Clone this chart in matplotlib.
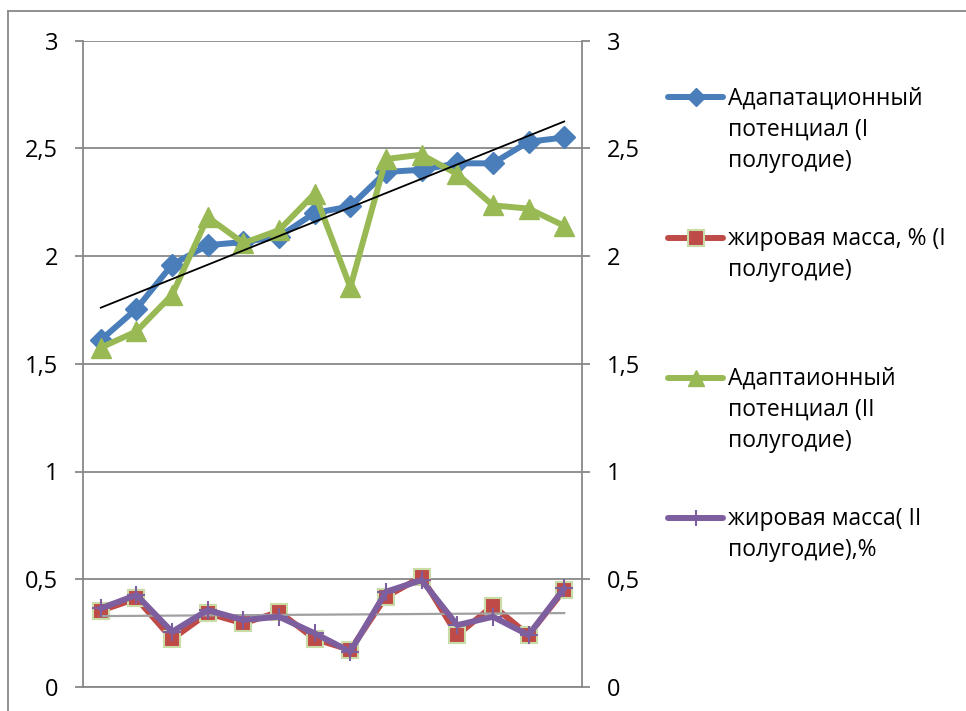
import numpy as np
import matplotlib
matplotlib.use("Agg")
import matplotlib.pyplot as plt
from matplotlib.lines import Line2D

plt.rcParams['font.family'] = ['Open Sans', 'DejaVu Sans']

# ---- data ----
categories = list(range(1, 15))
adapt_1 = [1.61, 1.755, 1.96, 2.05, 2.065, 2.09, 2.20, 2.23, 2.39, 2.40, 2.43, 2.43, 2.53, 2.55]
fat_1 = [0.354, 0.411, 0.223, 0.342, 0.295, 0.349, 0.223, 0.172, 0.419, 0.511, 0.241, 0.377, 0.241, 0.45]
adapt_2 = [1.575, 1.65, 1.82, 2.18, 2.06, 2.12, 2.29, 1.855, 2.45, 2.47, 2.38, 2.235, 2.22, 2.14]
fat_2 = [0.365, 0.427, 0.256, 0.357, 0.311, 0.326, 0.249, 0.164, 0.442, 0.496, 0.287, 0.326, 0.241, 0.458]
ytick_vals = [0, 0.5, 1, 1.5, 2, 2.5, 3]
ytick_labels = ['0', '0,5', '1', '1,5', '2', '2,5', '3']
legend_labels = [
    ['Адапатационный', 'потенциал (I', 'полугодие)'],
    ['жировая масса, % (I', 'полугодие)'],
    ['Адаптаионный', 'потенциал (II', 'полугодие)'],
    ['жировая масса( II', 'полугодие),%'],
]

W, H = 966, 711
fig = plt.figure(figsize=(W / 100, H / 100), dpi=100)
ax = fig.add_axes([83 / W, 1 - 687 / H, (582 - 83) / W, (687 - 40.5) / H])

GRID = '#888888'
BLUE = '#4A7EBB'
RED = '#BE4B48'
GREEN = '#98B954'
PURPLE = '#7D5FA0'
EDGE = '#CADCA5'

x = np.arange(len(categories))

ax.plot(x, adapt_1, color=BLUE, lw=4.3, marker='D', ms=11.5, mfc=BLUE, mec=BLUE, zorder=3,
        solid_joinstyle='round', solid_capstyle='round')
ax.plot(x, fat_1, color=RED, lw=4.3, marker='s', ms=11.5, mfc=RED, mec=EDGE, mew=1.5, zorder=3,
        solid_joinstyle='round', solid_capstyle='round')
ax.plot(x, adapt_2, color=GREEN, lw=4.3, marker='^', ms=14, mfc=GREEN, mec=GREEN, zorder=4,
        solid_joinstyle='round', solid_capstyle='round')
# trend for fat mass (II)
k2, b2 = np.polyfit(x, fat_2, 1)
ax.plot([x[0], x[-1]], [b2, k2 * x[-1] + b2], color='#A0A0A0', lw=1.6, zorder=4.5)
ax.plot(x, fat_2, color=PURPLE, lw=4.3, marker='+', ms=13, mew=1.5, mec=PURPLE, zorder=5,
        solid_joinstyle='round', solid_capstyle='round')
# trend for adaptation potential (I)
k1, b1 = np.polyfit(x, adapt_1, 1)
ax.plot([x[0], x[-1]], [b1, k1 * x[-1] + b1], color='black', lw=1.3, zorder=6)

ax.set_xlim(-0.5, len(categories) - 0.5)
ax.set_ylim(0, 3)
ax.set_xticks([])
ax.set_yticks(ytick_vals)
ax.set_yticklabels(ytick_labels)
ax.yaxis.grid(True, color=GRID, lw=1.3)
ax.set_axisbelow(True)
for s in ['left', 'right', 'bottom']:
    ax.spines[s].set_color(GRID)
    ax.spines[s].set_linewidth(1.3)
ax.spines['top'].set_visible(False)
ax.tick_params(axis='y', direction='out', length=6, width=1.3, color=GRID,
               labelsize=17, pad=12, labelcolor='black')

ax2 = ax.twinx()
ax2.set_ylim(0, 3)
ax2.set_yticks(ytick_vals)
ax2.set_yticklabels(ytick_labels)
for s in ['left', 'right', 'bottom', 'top']:
    ax2.spines[s].set_visible(False)
ax2.tick_params(axis='y', direction='out', length=6, width=1.3, color=GRID,
                labelsize=17, pad=12, labelcolor='black')

# outer chart border
fig.add_artist(Line2D([7.5 / W, 7.5 / W], [0, 1 - 11 / H], color=GRID, lw=1.3, transform=fig.transFigure))
fig.add_artist(Line2D([7.5 / W, 1], [1 - 11 / H, 1 - 11 / H], color=GRID, lw=1.3, transform=fig.transFigure))

# legend (manual)
handles = [
    dict(color=BLUE, marker='D', ms=9, mfc=BLUE, mec=BLUE, mew=1),
    dict(color=RED, marker='s', ms=11, mfc=RED, mec=EDGE, mew=1.5),
    dict(color=GREEN, marker='^', ms=12, mfc=GREEN, mec=GREEN, mew=1),
    dict(color=PURPLE, marker='+', ms=12, mec=PURPLE, mew=1.5),
]
handle_y = [97, 238, 378, 518]
baselines = [[105, 136, 167], [245, 276], [385, 416, 447], [525, 556]]
for h, hy, lines, bls in zip(handles, handle_y, legend_labels, baselines):
    yy = 1 - hy / H
    fig.add_artist(Line2D([668 / W, 723 / W], [yy, yy], lw=4.3, solid_capstyle='round',
                          transform=fig.transFigure, **{k: v for k, v in h.items() if k != 'marker'}))
    fig.add_artist(Line2D([696 / W], [yy], lw=0, marker=h['marker'], transform=fig.transFigure,
                          **{k: v for k, v in h.items() if k not in ('marker', 'color')}))
    for t, bl in zip(lines, bls):
        fig.text(728 / W, 1 - bl / H, t, fontsize=16.5, va='baseline', ha='left')

fig.savefig('out.png', dpi=100)
